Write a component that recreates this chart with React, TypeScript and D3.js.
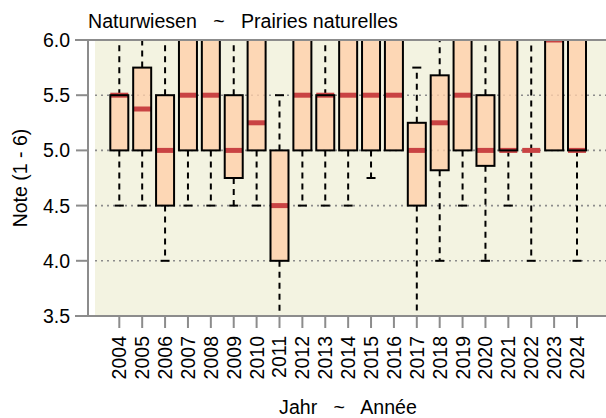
import * as d3 from "d3";
import React, { useEffect, useRef } from "react";

const years = [
  "2004", "2005", "2006", "2007", "2008", "2009", "2010", "2011", "2012", "2013", "2014",
  "2015", "2016", "2017", "2018", "2019", "2020", "2021", "2022", "2023", "2024",
];
const whiskerLow = [4.5, 4.5, 4.0, 4.5, 4.5, 4.5, 4.5, 3.5, 4.5, 4.5, 4.5, 4.75, 5.0, 3.5, 4.0, 4.5, 4.0, 4.5, 4.0, 5.0, 4.0];
const q1 = [5, 5, 4.5, 5, 5, 4.75, 5, 4, 5, 5, 5, 5, 5, 4.5, 4.82, 5, 4.86, 5, 5, 5, 5];
const medians = [5.5, 5.375, 5, 5.5, 5.5, 5, 5.25, 4.5, 5.5, 5.5, 5.5, 5.5, 5.5, 5, 5.25, 5.5, 5, 5, 5, 6, 5];
const q3 = [5.5, 5.75, 5.5, 6, 6, 5.5, 6, 5, 6, 5.5, 6, 6, 6, 5.25, 5.68, 6, 5.5, 6, 5, 6, 6];
const whiskerHigh = [6, 6, 6, 6, 6, 6, 6, 5.5, 6, 6, 6, 6, 6, 5.75, 6, 6, 6, 6, 6, 6, 6];
const yTicks = [3.5, 4.0, 4.5, 5.0, 5.5, 6.0];
const gridTicks = [4.0, 4.5, 5.0, 5.5];

const FONT = "'Liberation Sans', Arial, sans-serif";

const App: React.FC = () => {
  const svgRef = useRef<SVGSVGElement | null>(null);

  useEffect(() => {
    const svg = d3.select(svgRef.current);
    svg.selectAll("*").remove();
    const width = 606;
    const height = 418;
    const top = 40;
    const bottom = 316;
    const panelLeft = 95;
    const axisX = 88;
    const boxW = 18;
    const capW = 9;

    const x = d3.scalePoint().domain(years).range([119.3, 577]);
    const y = d3.scaleLinear().domain([3.5, 6]).range([bottom, top]);

    const rows = years.map((yr, i) => ({
      yr,
      lo: whiskerLow[i],
      q1: q1[i],
      med: medians[i],
      q3: q3[i],
      hi: whiskerHigh[i],
    }));

    svg.attr("width", width).attr("height", height);

    svg
      .append("defs")
      .append("clipPath")
      .attr("id", "plotclip")
      .append("rect")
      .attr("x", panelLeft)
      .attr("y", top)
      .attr("width", width - panelLeft)
      .attr("height", bottom - top);

    // sfondo
    svg
      .append("rect")
      .attr("x", panelLeft)
      .attr("y", top)
      .attr("width", width - panelLeft)
      .attr("height", bottom - top)
      .attr("fill", "#f3f3e1");

    // griglia
    svg
      .append("g")
      .selectAll("line")
      .data(gridTicks)
      .join("line")
      .attr("x1", panelLeft)
      .attr("x2", width)
      .attr("y1", (d) => y(d))
      .attr("y2", (d) => y(d))
      .attr("stroke", "#8c8c8c")
      .attr("stroke-width", 1.6)
      .attr("stroke-dasharray", "2,4");

    const plot = svg.append("g").attr("clip-path", "url(#plotclip)");

    // baffi
    const wh = plot.append("g");
    wh.selectAll("line.up")
      .data(rows.filter((r) => r.hi > r.q3))
      .join("line")
      .attr("class", "up")
      .attr("x1", (d) => x(d.yr)!)
      .attr("x2", (d) => x(d.yr)!)
      .attr("y1", (d) => y(d.q3))
      .attr("y2", (d) => y(d.hi))
      .attr("stroke", "#000")
      .attr("stroke-width", 2)
      .attr("stroke-dasharray", "6,5");
    wh.selectAll("line.down")
      .data(rows.filter((r) => r.lo < r.q1))
      .join("line")
      .attr("class", "down")
      .attr("x1", (d) => x(d.yr)!)
      .attr("x2", (d) => x(d.yr)!)
      .attr("y1", (d) => y(d.q1))
      .attr("y2", (d) => y(d.lo))
      .attr("stroke", "#000")
      .attr("stroke-width", 2)
      .attr("stroke-dasharray", "6,5");

    // scatole
    plot
      .append("g")
      .selectAll("rect")
      .data(rows)
      .join("rect")
      .attr("x", (d) => x(d.yr)! - boxW / 2)
      .attr("y", (d) => y(d.q3))
      .attr("width", boxW)
      .attr("height", (d) => y(d.q1) - y(d.q3))
      .attr("fill", "#ffd0aa")
      .attr("fill-opacity", 0.8);

    // mediane
    plot
      .append("g")
      .selectAll("line")
      .data(rows)
      .join("line")
      .attr("x1", (d) => x(d.yr)! - boxW / 2)
      .attr("x2", (d) => x(d.yr)! + boxW / 2)
      .attr("y1", (d) => y(d.med))
      .attr("y2", (d) => y(d.med))
      .attr("stroke", "#c94343")
      .attr("stroke-width", 5);

    plot
      .append("g")
      .selectAll("rect")
      .data(rows)
      .join("rect")
      .attr("x", (d) => x(d.yr)! - boxW / 2)
      .attr("y", (d) => y(d.q3))
      .attr("width", boxW)
      .attr("height", (d) => y(d.q1) - y(d.q3))
      .attr("fill", "none")
      .attr("stroke", "#000")
      .attr("stroke-width", 2);

    // cappucci
    const caps = rows.flatMap((r) => [
      ...(r.hi > r.q3 ? [{ yr: r.yr, v: r.hi }] : []),
      ...(r.lo < r.q1 ? [{ yr: r.yr, v: r.lo }] : []),
    ]);
    plot
      .append("g")
      .selectAll("line")
      .data(caps)
      .join("line")
      .attr("x1", (d) => x(d.yr)! - capW / 2)
      .attr("x2", (d) => x(d.yr)! + capW / 2)
      .attr("y1", (d) => y(d.v))
      .attr("y2", (d) => y(d.v))
      .attr("stroke", "#000")
      .attr("stroke-width", 2);

    // assi
    const ax = svg.append("g").attr("stroke", "#8c8c8c").attr("stroke-width", 2);
    ax.append("line").attr("x1", 75).attr("x2", width).attr("y1", top).attr("y2", top);
    ax.append("line").attr("x1", 75).attr("x2", width).attr("y1", bottom).attr("y2", bottom);
    ax.append("line").attr("x1", axisX).attr("x2", axisX).attr("y1", top).attr("y2", bottom);
    ax.append("g")
      .selectAll("line")
      .data(yTicks)
      .join("line")
      .attr("x1", 76)
      .attr("x2", axisX)
      .attr("y1", (d) => y(d))
      .attr("y2", (d) => y(d));
    ax.append("g")
      .selectAll("line")
      .data(years)
      .join("line")
      .attr("x1", (d) => x(d)!)
      .attr("x2", (d) => x(d)!)
      .attr("y1", bottom)
      .attr("y2", 328);

    // etichette
    svg
      .append("g")
      .selectAll("text")
      .data(yTicks)
      .join("text")
      .attr("x", 70)
      .attr("y", (d) => y(d) + 7)
      .attr("text-anchor", "end")
      .attr("font-family", FONT)
      .attr("font-size", 19.5)
      .text((d) => d.toFixed(1));

    svg
      .append("g")
      .selectAll("text")
      .data(years)
      .join("text")
      .attr("transform", (d) => `translate(${x(d)! + 7},336) rotate(-90)`)
      .attr("text-anchor", "end")
      .attr("font-family", FONT)
      .attr("font-size", 19.5)
      .text((d) => d);

    svg
      .append("text")
      .attr("x", 88)
      .attr("y", 28)
      .attr("font-family", FONT)
      .attr("font-size", 19.6)
      .style("white-space", "pre")
      .text("Naturwiesen   ~   Prairies naturelles");

    svg
      .append("text")
      .attr("x", 348)
      .attr("y", 414)
      .attr("text-anchor", "middle")
      .attr("font-family", FONT)
      .attr("font-size", 19.6)
      .style("white-space", "pre")
      .text("Jahr   ~   Année");

    svg
      .append("text")
      .attr("transform", "translate(27,178) rotate(-90)")
      .attr("text-anchor", "middle")
      .attr("font-family", FONT)
      .attr("font-size", 19.5)
      .text("Note (1 - 6)");
  }, []);

  return (
    <svg
      ref={svgRef}
      width={606}
      height={418}
      style={{ position: "absolute", left: 0, top: 0, background: "#fff" }}
    />
  );
};

export default App;
